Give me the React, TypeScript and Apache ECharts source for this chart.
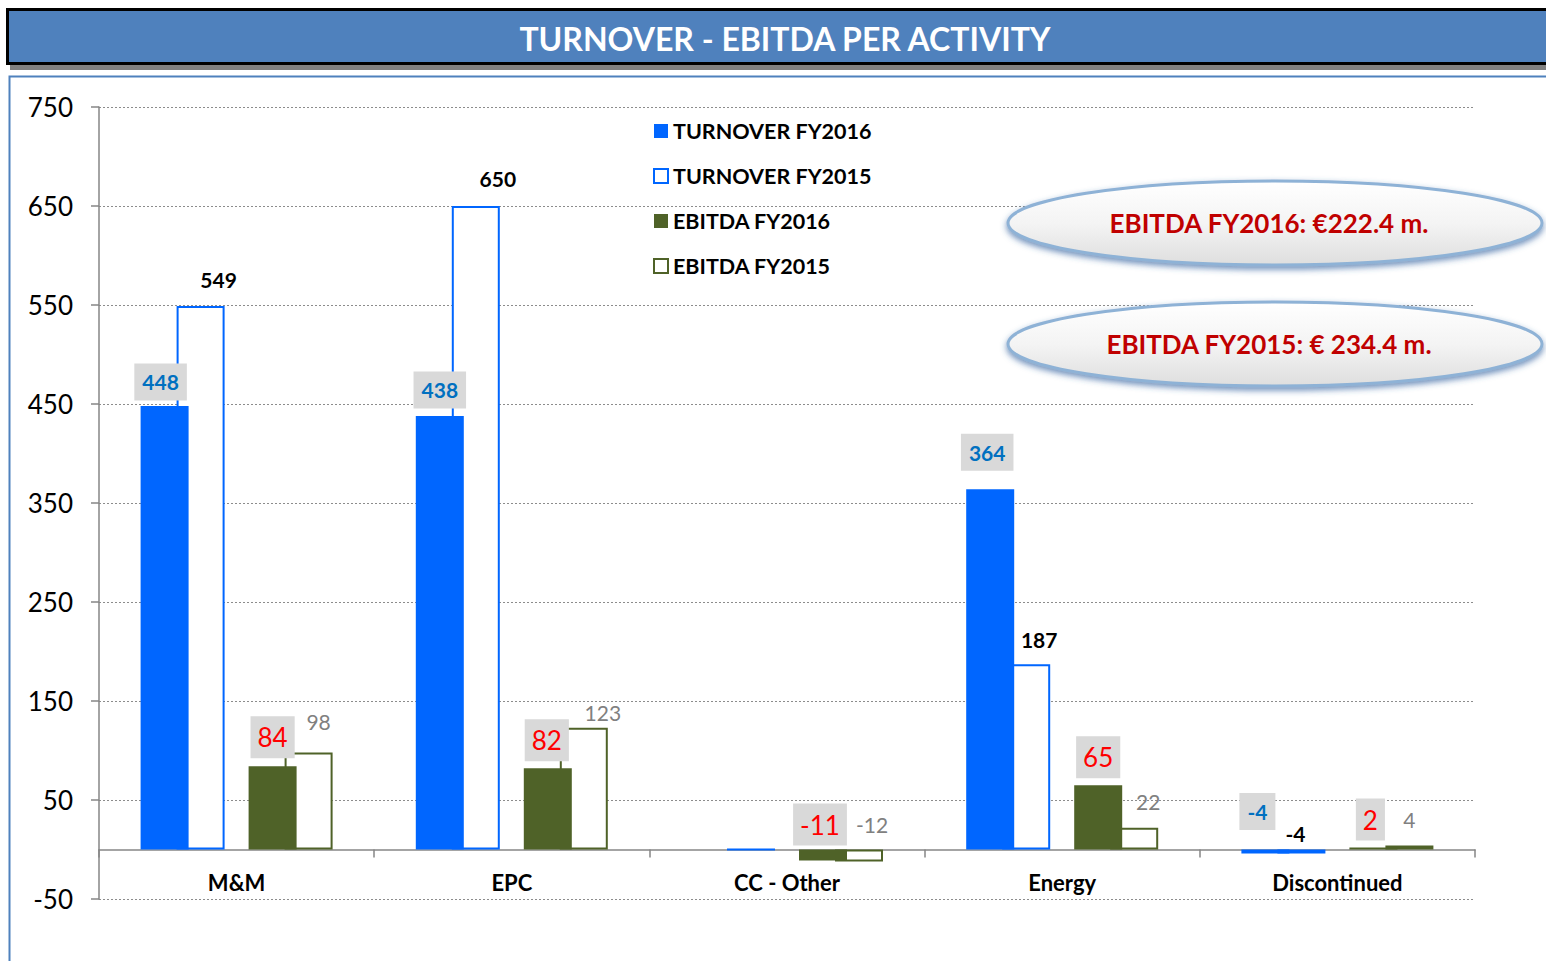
import React, { useEffect, useRef } from "react";
import * as echarts from "echarts";

const categories = ["M&M", "EPC", "CC - Other", "Energy", "Discontinued"];
const turnover2016: (number | null)[] = [448, 438, null, 364, -4];
const turnover2015: (number | null)[] = [549, 650, 0, 187, -4];
const ebitda2016: (number | null)[] = [84, 82, -11, 65, 2];
const ebitda2015: (number | null)[] = [98, 123, -12, 22, 4];
const seriesNames = ["TURNOVER FY2016", "TURNOVER FY2015", "EBITDA FY2016", "EBITDA FY2015"];
const yTicks = { min: -50, max: 750, interval: 100 };
const titleText = "TURNOVER - EBITDA PER ACTIVITY";
const notes = ["EBITDA FY2016: €222.4 m.", "EBITDA FY2015: € 234.4 m."];

// label offsets (style only), null = no label
const offT16: ([number, number] | null)[] = [[-4, -24], [0, -26], null, [-3, -37], [-8, -38]];
const offT15: ([number, number] | null)[] = [[18, -26], [22, -28], null, [13, -25], [-6, -16]];
const offE16: ([number, number] | null)[] = [[0, -29], [-1, -28], [-3, -25], [0, -28], [-3, -28]];
const offE15: ([number, number] | null)[] = [[10, -31], [19, -15], [13, -25], [14, -26], [0, -26]];

const FONT = "Lato, 'Open Sans', sans-serif";

function build(values: (number | null)[], offs: ([number, number] | null)[]) {
  return values.map((v, i) => {
    if (v === null) return null;
    const o = offs[i];
    return { value: v, label: o ? { show: true, offset: o } : { show: false } };
  });
}

export default function App() {
  const ref = useRef<HTMLDivElement>(null);
  useEffect(() => {
    if (!ref.current) return;
    const chart = echarts.init(ref.current, null, { renderer: "svg" });
    const baseLabel = {
      position: "top",
      distance: 0,
      align: "center",
      verticalAlign: "middle",
      fontFamily: FONT,
    };
    chart.setOption({
      animation: false,
      backgroundColor: "#ffffff",
      textStyle: { fontFamily: FONT },
      grid: { left: 99, right: 71, top: 107, bottom: 62, containLabel: false },
      legend: {
        orient: "vertical",
        left: 648,
        top: 115,
        itemWidth: 14,
        itemHeight: 14,
        itemGap: 23,
        icon: "rect",
        data: seriesNames,
        textStyle: { fontFamily: FONT, fontWeight: "bold", fontSize: 21.5, color: "#000" },
      },
      xAxis: {
        type: "category",
        data: categories,
        axisLine: { onZero: true, lineStyle: { color: "#868686", width: 1.5 } },
        axisTick: { show: true, length: 8, lineStyle: { color: "#868686", width: 1.5 } },
        axisLabel: { fontFamily: FONT, fontWeight: "bold", fontSize: 22, color: "#000", margin: -28 },
        splitLine: { show: false },
      },
      yAxis: {
        type: "value",
        min: yTicks.min,
        max: yTicks.max,
        interval: yTicks.interval,
        axisLine: { show: true, lineStyle: { color: "#868686", width: 1.5 } },
        axisTick: { show: true, length: 8, lineStyle: { color: "#868686", width: 1.5 } },
        axisLabel: { fontFamily: FONT, fontSize: 26, color: "#000", margin: 26 },
        splitLine: { show: true, lineStyle: { color: "#8c8c8c", type: [2, 2], width: 1.2 } },
      },
      series: [
        {
          name: seriesNames[0],
          type: "bar",
          barWidth: 48,
          barGap: "-25%",
          z: 3,
          itemStyle: { color: "#0066FF" },
          label: {
            ...baseLabel,
            color: "#0070C0",
            fontWeight: "bold",
            fontSize: 21,
            backgroundColor: "#D9D9D9",
            padding: [9, 8, 7, 8],
          },
          data: build(turnover2016, offT16),
        },
        {
          name: seriesNames[1],
          type: "bar",
          barWidth: 48,
          barGap: "-25%",
          z: 2,
          itemStyle: { color: "#ffffff", borderColor: "#0066FF", borderWidth: 2 },
          label: { ...baseLabel, color: "#000", fontWeight: "bold", fontSize: 21 },
          data: build(turnover2015, offT15),
        },
        {
          name: "spacer",
          type: "bar",
          barWidth: 48,
          barGap: "-25%",
          data: categories.map(() => null),
        },
        {
          name: seriesNames[2],
          type: "bar",
          barWidth: 48,
          barGap: "-25%",
          z: 3,
          itemStyle: { color: "#4F6228" },
          label: {
            ...baseLabel,
            color: "#FF0000",
            fontSize: 26,
            backgroundColor: "#D9D9D9",
            padding: [9, 7, 7, 7],
          },
          data: build(ebitda2016, offE16),
        },
        {
          name: seriesNames[3],
          type: "bar",
          barWidth: 48,
          barGap: "-25%",
          z: 2,
          itemStyle: { color: "#ffffff", borderColor: "#4F6228", borderWidth: 2 },
          label: { ...baseLabel, color: "#808080", fontSize: 21 },
          data: build(ebitda2015, offE15),
        },
      ],
      graphic: [
        { type: "rect", z: 0, shape: { x: 10, y: 13, width: 1600, height: 57 }, style: { fill: "#808080" } },
        {
          type: "rect",
          z: 1,
          shape: { x: 7.5, y: 9.5, width: 1600, height: 54 },
          style: { fill: "#4F81BD", stroke: "#000", lineWidth: 3 },
        },
        {
          type: "text",
          z: 2,
          x: 785,
          y: 38,
          style: {
            text: titleText,
            fill: "#fff",
            font: `bold 32px ${FONT}`,
            align: "center",
            verticalAlign: "middle",
          },
        },
        {
          type: "rect",
          z: 0,
          shape: { x: 9.5, y: 76.5, width: 1600, height: 1000 },
          style: { fill: "none", stroke: "#4F81BD", lineWidth: 2 },
        },
        ...notes.flatMap((t, i) => {
          const cy = 223 + i * 121;
          return [
            {
              type: "ellipse",
              z: 10,
              shape: { cx: 1275, cy, rx: 267, ry: 42 },
              style: {
                fill: new echarts.graphic.LinearGradient(0, 0, 0, 1, [
                  { offset: 0, color: "#ffffff" },
                  { offset: 0.5, color: "#f4f4f4" },
                  { offset: 1, color: "#dedede" },
                ]),
                stroke: "#8EB2D6",
                lineWidth: 3,
                shadowBlur: 6,
                shadowOffsetY: 3,
                shadowColor: "rgba(50,100,160,0.7)",
              },
            },
            {
              type: "text",
              z: 11,
              x: 1269,
              y: cy,
              style: {
                text: t,
                fill: "#C00000",
                font: `bold 26px ${FONT}`,
                align: "center",
                verticalAlign: "middle",
              },
            },
          ];
        }),
      ],
    });
    return () => chart.dispose();
  }, []);
  return (
    <div
      ref={ref}
      style={{ position: "fixed", left: 0, top: 0, width: 1546, height: 961, background: "#fff" }}
    />
  );
}
